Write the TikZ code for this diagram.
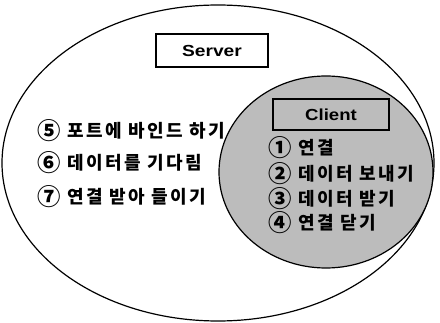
\documentclass[tikz,border=0pt]{standalone}
\usepackage{fontspec}
\usepackage{graphicx}
\usetikzlibrary{shapes.geometric}
\setsansfont{Liberation Sans}
\newfontfamily\kr{Noto Sans CJK KR}[LetterSpace=13]
\newfontfamily\krplain{Noto Sans CJK KR}
\newcommand{\cn}[1]{\raisebox{-2.2pt}{\scalebox{1.3}{\krplain\bfseries #1}}\hspace{7pt}}
\definecolor{halftone}{HTML}{BCBCBC}
\begin{document}
\begin{tikzpicture}[x=1pt,y=-1pt,
  titlebox/.style={draw=black,line width=1.8pt,minimum width=112pt,minimum height=33pt,inner sep=0pt,font=\sffamily\bfseries\fontsize{16}{16}\selectfont},
  krtext/.style={anchor=west,inner sep=0pt,font=\kr\bfseries\fontsize{18}{18}\selectfont}]
\useasboundingbox (0,0) rectangle (440,323);
\node[draw=black,line width=1.2pt,ellipse,minimum width=432pt,minimum height=316pt,inner sep=0pt] (server) at (218,163) {};
\node[draw=black,line width=1.2pt,fill=halftone,ellipse,minimum width=214pt,minimum height=192pt,inner sep=0pt] (client) at (326,172) {};
\node[titlebox] (serverbox) at (212,50.5) {\scalebox{1.2}[1]{Server}};
\node[titlebox,fill=halftone,minimum width=116pt,minimum height=31pt] (clientbox) at (331,114.5) {\scalebox{1.16}[1]{Client}};
\node[krtext] (s5) at (37,131) {\cn{⑤}포트에 바인드 하기};
\node[krtext] (s6) at (37,163) {\cn{⑥}데이터를 기다림};
\node[krtext] (s7) at (37,197) {\cn{⑦}연결 받아 들이기};
\node[krtext] (c1) at (268,148) {\cn{①}연결};
\node[krtext] (c2) at (268,174) {\cn{②}데이터 보내기};
\node[krtext] (c3) at (268,199) {\cn{③}데이터 받기};
\node[krtext] (c4) at (268,223) {\cn{④}연결 닫기};
\end{tikzpicture}
\end{document}
